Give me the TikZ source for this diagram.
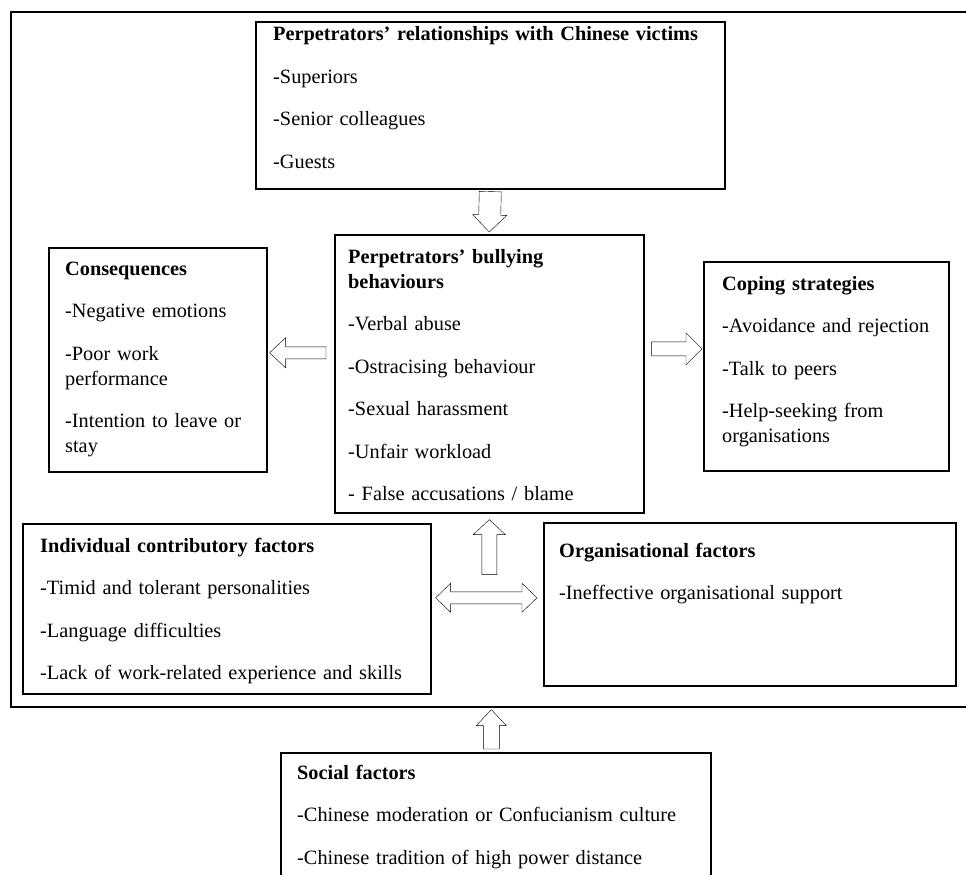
\documentclass[tikz,border=0pt]{standalone}
\usepackage{fontspec}
\setmainfont{Liberation Serif}
\usetikzlibrary{calc}
\hyphenpenalty=10000
\exhyphenpenalty=10000

\tikzset{
  panel/.style={draw, line width=1.6pt, anchor=north west, inner sep=0pt},
  txt/.style={anchor=base west, inner sep=0pt, align=left, text width=#1,
    font=\fontsize{20.3}{25}\selectfont},
  % hollow block arrow: shaft half width, head half width, head length
  hollow/.style n args={3}{draw, line width=1.6pt, fill=white, to path={
    let \p1=(\tikztostart), \p2=(\tikztotarget), \n1={atan2(\y2-\y1,\x2-\x1)} in
    ($(\p1)+(\n1+90:#1)$) -- ($(\p2)+(\n1:-#3)+(\n1+90:#1)$) -- ($(\p2)+(\n1:-#3)+(\n1+90:#2)$)
    -- (\p2) -- ($(\p2)+(\n1:-#3)+(\n1-90:#2)$) -- ($(\p2)+(\n1:-#3)+(\n1-90:#1)$)
    -- ($(\p1)+(\n1-90:#1)$) -- cycle}},
  twin/.style n args={3}{draw, line width=1.6pt, fill=white, to path={
    let \p1=(\tikztostart), \p2=(\tikztotarget), \n1={atan2(\y2-\y1,\x2-\x1)} in
    (\p1) -- ($(\p1)+(\n1:#3)+(\n1+90:#2)$) -- ($(\p1)+(\n1:#3)+(\n1+90:#1)$)
    -- ($(\p2)+(\n1:-#3)+(\n1+90:#1)$) -- ($(\p2)+(\n1:-#3)+(\n1+90:#2)$)
    -- (\p2) -- ($(\p2)+(\n1:-#3)+(\n1-90:#2)$) -- ($(\p2)+(\n1:-#3)+(\n1-90:#1)$)
    -- ($(\p1)+(\n1:#3)+(\n1-90:#1)$) -- ($(\p1)+(\n1:#3)+(\n1-90:#2)$) -- cycle}}
}

\begin{document}
\begin{tikzpicture}[x=1pt,y=-1pt]
  \useasboundingbox (0,0) rectangle (966,875);
  \clip (0,0) rectangle (966,875);
  \fill[white] (0,0) rectangle (966,875);

  % outer frame runs off the right edge
  \node[panel, minimum width=975pt, minimum height=695pt] (frame) at (10,11) {};

  % boxes
  \node[panel, minimum width=469pt, minimum height=167pt] (rel) at (255,21) {};
  \node[panel, minimum width=218pt, minimum height=224pt] (cons) at (48,247) {};
  \node[panel, minimum width=309pt, minimum height=278pt] (mid) at (334,234) {};
  \node[panel, minimum width=245pt, minimum height=209pt] (cope) at (703,261) {};
  \node[panel, minimum width=408pt, minimum height=170pt] (indiv) at (22,523) {};
  \node[panel, minimum width=412pt, minimum height=163pt] (org) at (543,522) {};
  \node[panel, minimum width=430pt, minimum height=200pt] (social) at (280,752) {};

  % texts
  \node[txt=440pt] (relT) at ($(rel.north west)+(18,20)$) {\textbf{Perpetrators’ relationships with Chinese victims}\\[17.5pt]
    -Superiors\\[17.5pt] -Senior colleagues\\[17.5pt] -Guests};
  \node[txt=184pt] (consT) at ($(cons.north west)+(17,28)$) {\textbf{Consequences}\\[17.5pt]
    -Negative emotions\\[17.5pt] -Poor work performance\\[17.5pt] -Intention to leave or stay};
  \node[txt=281pt] (midT) at ($(mid.north west)+(14,29)$) {\textbf{Perpetrators’ bullying behaviours}\\[17.5pt]
    -Verbal abuse\\[17.5pt] -Ostracising behaviour\\[17.5pt] -Sexual harassment\\[17.5pt]
    -Unfair workload\\[17.5pt] - False accusations / blame};
  \node[txt=215pt] (copeT) at ($(cope.north west)+(19,29)$) {\textbf{Coping strategies}\\[17.5pt]
    -Avoidance and rejection\\[17.5pt] -Talk to peers\\[17.5pt] -Help-seeking from organisations};
  \node[txt=385pt] (indivT) at ($(indiv.north west)+(18,29)$) {\textbf{Individual contributory factors}\\[17.5pt]
    -Timid and tolerant personalities\\[17.5pt] -Language difficulties\\[17.5pt]
    -Lack of work-related experience and skills};
  \node[txt=380pt] (orgT) at ($(org.north west)+(16,35)$) {\textbf{Organisational factors}\\[17.5pt]
    -Ineffective organisational support};
  \node[txt=410pt] (socialT) at ($(social.north west)+(17,27)$) {\textbf{Social factors}\\[17.5pt]
    -Chinese moderation or Confucianism culture\\[17.5pt] -Chinese tradition of high power distance};

  % block arrows
  \draw ([yshift=-2pt]rel.south) to[hollow={11pt}{17pt}{17pt}] ([yshift=2pt]mid.north);
  \draw ($(mid.west |- cons.east)+(-8,-7)$) to[hollow={6pt}{15pt}{16pt}] ($(cons.east)+(2,-7)$);
  \draw ($(mid.east)+(7,-25)$) to[hollow={7pt}{16pt}{16pt}] ($(mid.east -| cope.west)+(-1,-25)$);
  \draw ($(mid.south)+(0,61)$) to[hollow={7.5pt}{16pt}{15pt}] ([yshift=-6pt]mid.south);
  \draw ($(indiv.east)+(4,-11)$) to[twin={6pt}{14.5pt}{15pt}] ($(org.west |- indiv.east)+(-6,-11)$);
  \draw ($(social.north -| mid.south)+(2,-3)$) to[hollow={8pt}{15pt}{16pt}] ($(frame.south -| mid.south)+(2,2)$);
\end{tikzpicture}
\end{document}
